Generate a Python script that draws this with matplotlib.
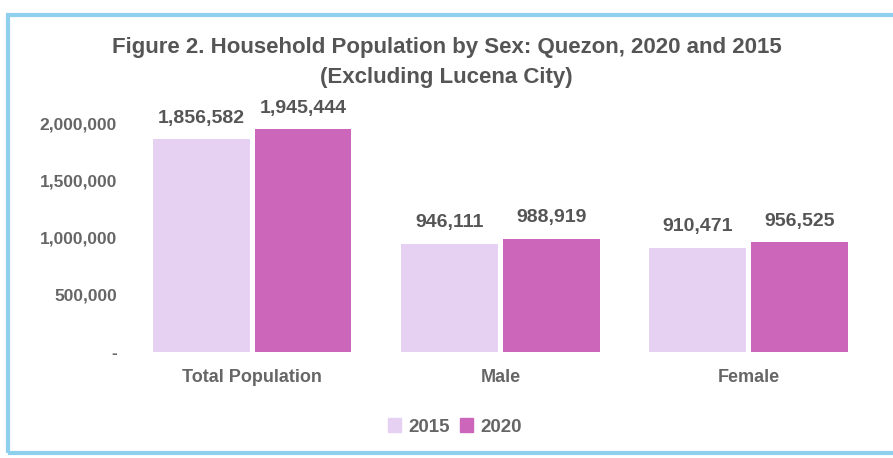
import matplotlib
matplotlib.use("Agg")
import matplotlib.pyplot as plt
from matplotlib.patches import Rectangle, Patch
import numpy as np

categories = ["Total Population", "Male", "Female"]
years = ["2015", "2020"]
values_2015 = [1856582, 946111, 910471]
values_2020 = [1945444, 988919, 956525]
yticks = [0, 500000, 1000000, 1500000, 2000000]
ytick_labels = ["-", "500,000", "1,000,000", "1,500,000", "2,000,000"]

c2015 = "#e6d1f3"
c2020 = "#cc66bb"
gray = "#555555"

plt.rcParams['font.family'] = ['Liberation Sans', 'DejaVu Sans']

W, H = 893, 458
fig = plt.figure(figsize=(W / 100, H / 100), dpi=100)
fig.patch.set_facecolor("white")

# border
fig.add_artist(Rectangle((8 / W, 1 - 453 / H), (900 - 8) / W, (453 - 15) / H,
                         transform=fig.transFigure, fill=False,
                         edgecolor="#8fd0ee", linewidth=3))

ax = fig.add_axes([128 / W, 1 - 352 / H, (873 - 128) / W, (352 - 123) / H])
x = np.arange(len(categories))
bw = 0.39
off = 0.205
b1 = ax.bar(x - off, values_2015, bw, color=c2015, label=years[0])
b2 = ax.bar(x + off, values_2020, bw, color=c2020, label=years[1])

for bars, vals in ((b1, values_2015), (b2, values_2020)):
    for rect, v in zip(bars, vals):
        ax.annotate(f"{v:,}", (rect.get_x() + rect.get_width() / 2, v),
                    xytext=(0, 15), textcoords="offset points",
                    ha="center", va="center", fontsize=14, fontweight="bold",
                    color=gray, annotation_clip=False)

ax.set_xlim(-0.5, 2.5)
ax.set_ylim(0, 2000000)
ax.set_yticks(yticks)
ax.set_yticklabels(ytick_labels, fontsize=12.5, fontweight="bold", color="#666666")
ax.set_xticks(x)
ax.set_xticklabels(categories, fontsize=13, fontweight="bold", color="#666666")
ax.tick_params(axis="both", length=0)
ax.tick_params(axis="y", pad=8)
ax.tick_params(axis="x", pad=12)
for s in ax.spines.values():
    s.set_visible(False)

fig.text(0.5, 1 - 48 / H, "Figure 2. Household Population by Sex: Quezon, 2020 and 2015",
         ha="center", va="center", fontsize=16, fontweight="bold", color=gray)
fig.text(0.5, 1 - 77 / H, "(Excluding Lucena City)",
         ha="center", va="center", fontsize=16, fontweight="bold", color=gray)

handles = [Patch(color=c2015), Patch(color=c2020)]
fig.legend(handles, years, loc="center", bbox_to_anchor=(455 / W, 1 - 427 / H),
           ncol=2, frameon=False, handlelength=0.7, handleheight=0.7,
           columnspacing=0.5, handletextpad=0.4,
           prop={"weight": "bold", "size": 13.5})
for t in fig.legends[0].get_texts():
    t.set_color("#666666")

fig.savefig("out.png", dpi=100)
